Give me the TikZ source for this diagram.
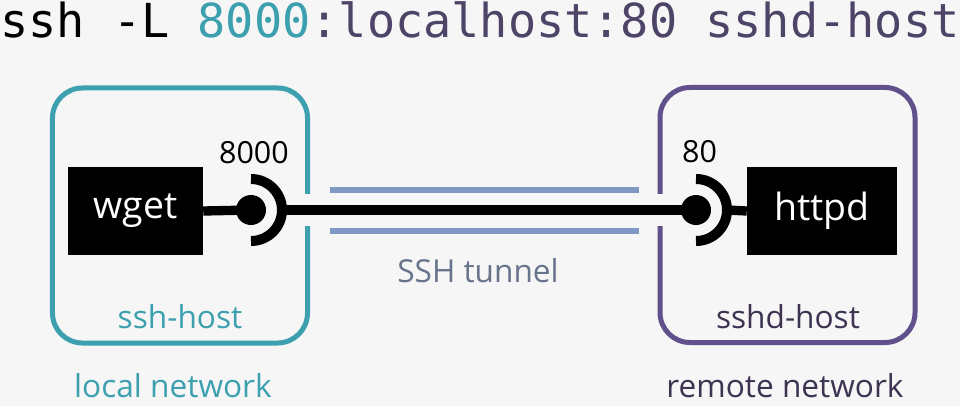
\documentclass[tikz,border=0pt]{standalone}
\usepackage{fontspec}
\setmainfont{Open Sans}
\setmonofont{DejaVu Sans Mono}
\usetikzlibrary{positioning, calc}

\definecolor{bgcol}{RGB}{246,246,246}
\definecolor{localcol}{RGB}{60,160,175}
\definecolor{remotecol}{RGB}{96,80,140}
\definecolor{remotetext}{RGB}{62,52,82}
\definecolor{cmdcol}{RGB}{78,68,104}
\definecolor{tunnelcol}{RGB}{128,152,196}
\definecolor{tunneltext}{RGB}{104,116,140}

\begin{document}
\begin{tikzpicture}[x=0.03cm, y=0.03cm,
    host/.style={rectangle, rounded corners=0.9cm, line width=0.15cm, minimum width=7.65cm, minimum height=7.65cm},
    prog/.style={rectangle, fill=black, text=white, minimum height=2.64cm, font=\fontsize{32}{36}\selectfont},
    plug/.style={circle, fill=black, inner sep=0pt, minimum size=0.9cm},
    wire/.style={line width=0.28cm, black},
    socket/.style={line width=0.3cm, black},
    tube/.style={line width=0.18cm, tunnelcol},
    port/.style={anchor=base west, font=\fontsize{26}{30}\selectfont},
    label/.style={anchor=base, font=\fontsize{27}{32}\selectfont}
  ]
  \fill[bgcol] (0,0) rectangle (960,406);
  \useasboundingbox (0,0) rectangle (960,406);

  % command line
  \node[anchor=base west, inner sep=0pt, font=\ttfamily\fontsize{40}{46}\selectfont] (cmd) at (0,369)
    {ssh -L {\color{localcol}8000}{\color{cmdcol}:localhost:80 sshd-host}};

  % hosts
  \node[host, draw=localcol] (sshhost) at (180,190.5) {};
  \node[host, draw=remotecol] (sshdhost) at (787.5,191) {};
  \fill[bgcol] (295,180) rectangle (320,212);
  \fill[bgcol] (648,180) rectangle (672,212);

  % programs
  \node[prog, minimum width=4.05cm] (wget) at (135.5,195) {wget};
  \node[prog, minimum width=4.5cm] (httpd) at (822,195) {httpd};

  % ports
  \coordinate (lball) at (251,196);
  \coordinate (rball) at (696,196);
  \coordinate (lsock) at (282,196);
  \coordinate (rsock) at (727,196);

  \draw[wire] (wget.east) -- (lball);
  \draw[wire] (lsock) -- (rball);
  \draw[wire] (rsock) -- (httpd.west);
  \node[plug] (lplug) at (lball) {};
  \node[plug] (rplug) at (rball) {};
  \draw[socket] ($(lball)+(0,31)$) arc[start angle=90, end angle=-90, radius=0.93cm];
  \draw[socket] ($(rball)+(0,31)$) arc[start angle=90, end angle=-90, radius=0.93cm];

  \node[port] (lport) at (215,243) {8000};
  \node[port] (rport) at (678,244) {80};

  % tunnel
  \draw[tube] (330,216.5) -- (639,216.5);
  \draw[tube] (330,175.5) -- (639,175.5);
  \node[label, text=tunneltext] (tunnel) at (478,124) {SSH tunnel};

  % host and network names
  \node[label, text=localcol] (lhost) at (180,78) {ssh-host};
  \node[label, text=remotetext] (rhost) at (788,78) {sshd-host};
  \node[label, text=localcol] (lnet) at (173,9) {local network};
  \node[label, text=remotetext] (rnet) at (785,9) {remote network};
\end{tikzpicture}
\end{document}
